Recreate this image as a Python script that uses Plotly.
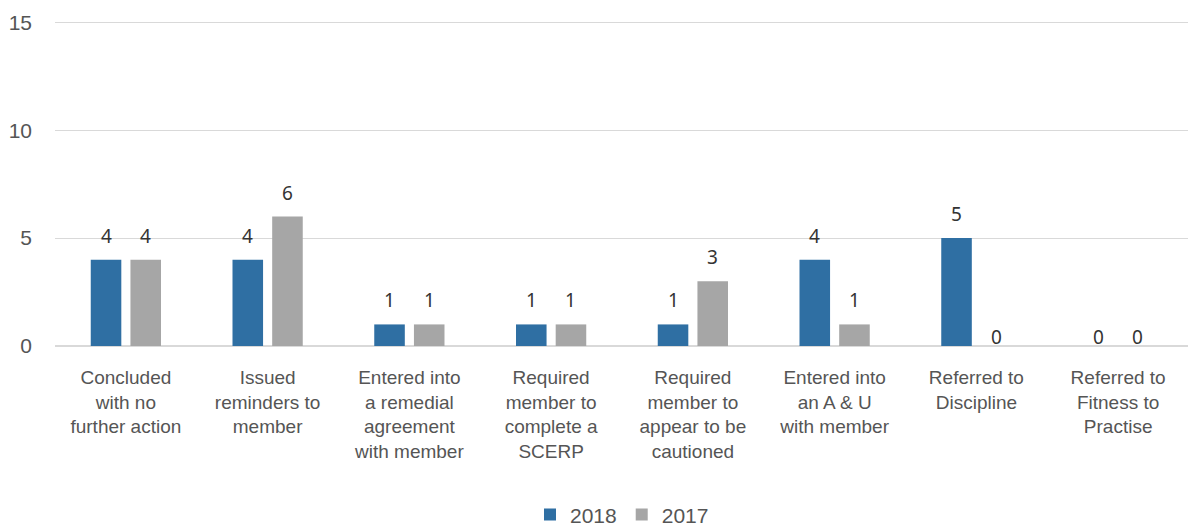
import plotly.graph_objects as go

# categorias y valores
categorias = [
    "Concluded<br>with no<br>further action",
    "Issued<br>reminders to<br>member",
    "Entered into<br>a remedial<br>agreement<br>with member",
    "Required<br>member to<br>complete a<br>SCERP",
    "Required<br>member to<br>appear to be<br>cautioned",
    "Entered into<br>an A & U<br>with member",
    "Referred to<br>Discipline",
    "Referred to<br>Fitness to<br>Practise",
]
valores_2018 = [4, 4, 1, 1, 1, 4, 5, 0]
valores_2017 = [4, 6, 1, 1, 3, 1, 0, 0]
ticks_y = [0, 5, 10, 15]

ANCHO, ALTO = 1196, 528
MARGEN_L, MARGEN_R = 47, 15
BARGAP = 0.44

fig = go.Figure()

fig.add_trace(go.Bar(
    name="2018",
    x=categorias,
    y=valores_2018,
    marker=dict(color="#2F6FA3", line=dict(width=0)),
    hoverinfo="x+y",
))
fig.add_trace(go.Bar(
    name="2017",
    x=categorias,
    y=valores_2017,
    marker=dict(color="#A6A6A6", line=dict(width=0)),
    hoverinfo="x+y",
))

# etiquetas de datos (como en Excel: un poco mas arriba de la barra)
ancho_cat = (ANCHO - MARGEN_L - MARGEN_R) / len(categorias)
desplazamiento = ancho_cat * (1 - BARGAP) / 4
for serie, signo in [(valores_2018, -1), (valores_2017, 1)]:
    for cat, v in zip(categorias, serie):
        fig.add_annotation(
            x=cat, y=v,
            text=str(v),
            showarrow=False,
            xshift=signo * desplazamiento,
            yshift=9 if v > 0 else -6,
            yanchor="bottom",
            font=dict(size=19, color="#333333", family="Noto Sans"),
        )

fig.update_layout(
    width=ANCHO,
    height=ALTO,
    barmode="group",
    bargap=BARGAP,
    bargroupgap=0.23,
    plot_bgcolor="white",
    paper_bgcolor="white",
    margin=dict(l=MARGEN_L, r=MARGEN_R, t=10, b=190, autoexpand=False),
    font=dict(family="Liberation Sans, Arial", size=19, color="#555555"),
    legend=dict(
        orientation="h",
        x=0.5, xanchor="center",
        y=-0.515, yanchor="middle",
        font=dict(size=21, color="#555555"),
        itemwidth=30,
        traceorder="normal",
    ),
    yaxis=dict(
        range=[0, 15.2],
        tickvals=ticks_y,
        showgrid=True,
        gridcolor="#D9D9D9",
        gridwidth=1,
        zeroline=True,
        zerolinecolor="#D9D9D9",
        showline=False,
        automargin=False,
        ticklabelstandoff=22,
        tickfont=dict(size=21, color="#555555"),
    ),
    xaxis=dict(
        showline=False,
        automargin=False,
        tickfont=dict(size=19, color="#555555"),
        tickangle=0,
        ticklabelstandoff=18,
    ),
)

fig.write_html("out.html")
